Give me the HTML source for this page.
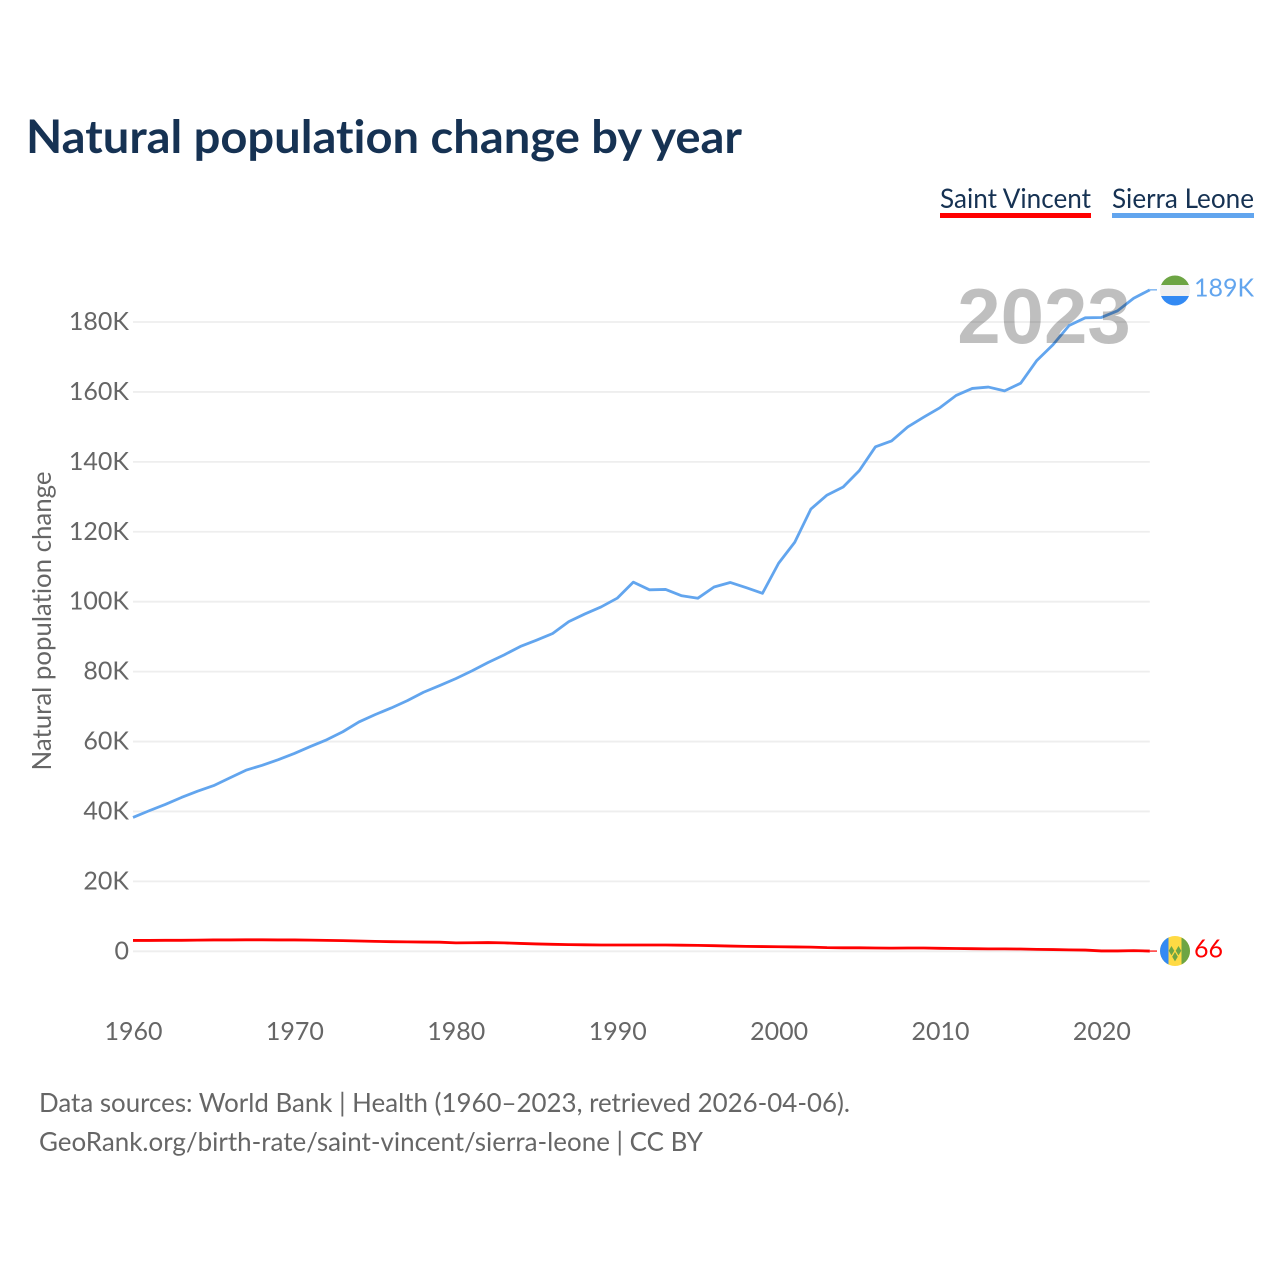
<!DOCTYPE html>
<html lang="en">
<head>
<meta charset="utf-8">
<title>Natural population change by year</title>
<style>
html,body{margin:0;padding:0;background:#fff;}
svg{display:block;font-family:"Lato","Carlito","Liberation Sans",sans-serif;font-variant-ligatures:none;}
</style>
</head>
<body>
<svg id="chart" width="1280" height="1280" viewBox="0 0 1280 1280" xmlns="http://www.w3.org/2000/svg">
  <defs>
    <clipPath id="sl-clip"><circle cx="1175" cy="290.5" r="15"></circle></clipPath>
    <clipPath id="vc-clip"><circle cx="1175" cy="951" r="15"></circle></clipPath>
  </defs>
  <text x="26" y="153" font-size="46" font-weight="700" fill="#163253" textLength="716" lengthAdjust="spacingAndGlyphs">Natural population change by year</text>

  <g>
    <text x="940" y="208" font-size="27" fill="#163253" textLength="151" lengthAdjust="spacingAndGlyphs">Saint Vincent</text>
    <rect x="940" y="213" width="151" height="5" fill="#ff0000"></rect>
  </g>
  <g>
    <text x="1112" y="208" font-size="27" fill="#163253" textLength="142" lengthAdjust="spacingAndGlyphs">Sierra Leone</text>
    <rect x="1112" y="213" width="142" height="5" fill="#62a5ee"></rect>
  </g>

  <g id="grid"></g>
  <g id="y-ticks"></g>
  <g id="x-ticks"></g>
  <text transform="translate(51,770.5) rotate(-90)" font-size="26" fill="#666666" textLength="299" lengthAdjust="spacingAndGlyphs">Natural population change</text>
  <g id="series"></g>

  <text x="1044" y="343" text-anchor="middle" font-family="'Liberation Sans',sans-serif" font-size="78" font-weight="700" fill="#000000" fill-opacity="0.25">2023</text>

  <g clip-path="url(#sl-clip)">
    <rect x="1160" y="275" width="30" height="11" fill="#6da544"></rect>
    <rect x="1160" y="285" width="30" height="11" fill="#f0f0f0"></rect>
    <rect x="1160" y="296" width="30" height="11" fill="#338af3"></rect>
  </g>
  <text id="label-sl" x="1194" y="296.500" font-size="25" fill="#62a5ee">189K</text>

  <g clip-path="url(#vc-clip)">
    <rect x="1160" y="936" width="30" height="30" fill="#ffda44"></rect>
    <rect x="1160" y="936" width="8.500" height="30" fill="#338af3"></rect>
    <rect x="1181.500" y="936" width="8.500" height="30" fill="#6da544"></rect>
    <path d="M1171.500 946l2.800 4.700-2.800 4.700-2.800-4.700zM1178.500 946l2.800 4.700-2.800 4.700-2.800-4.700zM1175 952l2.800 4.700-2.800 4.700-2.800-4.700z" fill="#6da544"></path>
  </g>
  <text id="label-vc" x="1194" y="957.500" font-size="25" fill="#ff0000">66</text>

  <text x="39" y="1112" font-size="26" fill="#666666" textLength="811" lengthAdjust="spacingAndGlyphs">Data sources: World Bank | Health (1960–2023, retrieved 2026-04-06).</text>
  <text x="39" y="1151" font-size="26" fill="#666666" textLength="664" lengthAdjust="spacingAndGlyphs">GeoRank.org/birth-rate/saint-vincent/sierra-leone | CC BY</text>
</svg>
<script>
const startYear = 1960;
const sierraLeone = [38300,40200,42000,44000,45800,47400,49600,51800,53200,54800,56600,58600,60500,62800,65600,67700,69600,71700,74100,76000,78000,80200,82600,84800,87200,89000,90900,94300,96500,98500,101000,105600,103400,103500,101700,101000,104200,105500,104000,102400,111000,117000,126500,130500,132800,137500,144300,146000,150000,152800,155500,159000,161000,161400,160300,162500,169000,173500,179000,181200,181300,183200,186800,189200];
const saintVincent = [3100,3100,3150,3150,3200,3250,3250,3280,3280,3250,3250,3200,3120,3050,2950,2850,2750,2700,2650,2600,2400,2450,2500,2400,2250,2100,2000,1900,1850,1800,1800,1800,1800,1800,1750,1700,1600,1500,1400,1350,1300,1250,1200,1050,1000,1000,950,900,950,950,850,800,750,700,700,650,550,500,400,350,100,100,200,66];
const yTickValues = [0,20000,40000,60000,80000,100000,120000,140000,160000,180000];
const yTickLabels = ["0","20K","40K","60K","80K","100K","120K","140K","160K","180K"];
const xTickYears = [1960,1970,1980,1990,2000,2010,2020];

const NS = "http://www.w3.org/2000/svg";
const xScale = year => 133 + (year - 1960) * 16.14;
const yScale = value => 951.3 - value * 0.003496;
const plotRight = xScale(2023);

function svgEl(tag, attrs, text) {
  const el = document.createElementNS(NS, tag);
  for (const key in attrs) el.setAttribute(key, attrs[key]);
  if (text !== undefined) el.textContent = text;
  return el;
}

const grid = document.getElementById("grid");
const yTicks = document.getElementById("y-ticks");
yTickValues.forEach((value, i) => {
  const line = svgEl("line", {x1: 133, x2: plotRight, y1: yScale(value), y2: yScale(value), stroke: "#eeeeee", "stroke-width": 1.8});
  
  
  grid.appendChild(line);
  const label = svgEl("text", {x: 129, y: yScale(value) + 8, "text-anchor": "end", "font-size": 25, fill: "#666666"}, yTickLabels[i]);
  
  
  yTicks.appendChild(label);
});

const xTicks = document.getElementById("x-ticks");
xTickYears.forEach(year => {
  const label = svgEl("text", {x: xScale(year) + 0.5, y: 1040, "text-anchor": "middle", "font-size": 25, fill: "#666666"}, String(year));
  
  
  xTicks.appendChild(label);
});

const seriesGroup = document.getElementById("series");
function drawSeries(values, color) {
  const pts = values.map((v, i) => xScale(startYear + i).toFixed(2) + "," + yScale(v).toFixed(2));
  const line = svgEl("polyline", {points: pts.join(" "), fill: "none", stroke: color, "stroke-width": 2.800, "stroke-linejoin": "round"});
  return line;
}
const vcLine = drawSeries(saintVincent, "#ff0000");


seriesGroup.appendChild(vcLine);
const slLine = drawSeries(sierraLeone, "#62a5ee");


seriesGroup.appendChild(slLine);

const slEnd = sierraLeone[sierraLeone.length - 1];
const vcEnd = saintVincent[saintVincent.length - 1];
const slConnector = svgEl("line", {x1: plotRight, x2: 1157, y1: yScale(slEnd), y2: yScale(slEnd), stroke: "#62a5ee", "stroke-width": 1.200});


seriesGroup.appendChild(slConnector);
const vcConnector = svgEl("line", {x1: plotRight, x2: 1157, y1: yScale(vcEnd), y2: yScale(vcEnd), stroke: "#ff0000", "stroke-width": 1.200});


seriesGroup.appendChild(vcConnector);
</script>
</body>
</html>
